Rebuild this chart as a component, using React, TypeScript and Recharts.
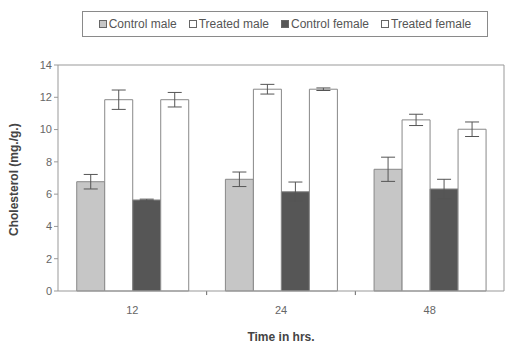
import * as React from 'react';
import { Bar, BarChart, ErrorBar, Legend, ReferenceLine, XAxis, YAxis } from 'recharts';

const times = ['12', '24', '48'];
const controlMale = [6.77, 6.92, 7.54];
const controlMaleErr = [0.45, 0.45, 0.75];
const treatedMale = [11.85, 12.5, 10.6];
const treatedMaleErr = [0.6, 0.3, 0.35];
const controlFemale = [5.64, 6.15, 6.32];
const controlFemaleErr = [0.05, 0.6, 0.6];
const treatedFemale = [11.85, 12.5, 10.02];
const treatedFemaleErr = [0.45, 0.08, 0.45];
const yTicks = [0, 2, 4, 6, 8, 10, 12, 14];
const boundaries = [1, 2];

const data = times.map((t, i) => ({
    time: t,
    idx: i,
    cm: controlMale[i], cmErr: controlMaleErr[i],
    tm: treatedMale[i], tmErr: treatedMaleErr[i],
    cf: controlFemale[i], cfErr: controlFemaleErr[i],
    tf: treatedFemale[i], tfErr: treatedFemaleErr[i],
}));

const series = [
    { key: 'cm', name: 'Control male', fill: '#c6c6c6' },
    { key: 'tm', name: 'Treated male', fill: '#ffffff' },
    { key: 'cf', name: 'Control female', fill: '#565656' },
    { key: 'tf', name: 'Treated female', fill: '#ffffff' },
];

const font = '"Liberation Sans", Arial, sans-serif';

const LegendBox = () => (
    <div style={{
        display: 'flex', alignItems: 'center', justifyContent: 'center', gap: 12,
        border: '1px solid #8a8a8a', height: 26, boxSizing: 'border-box',
        fontFamily: font, fontSize: 12, color: '#555',
    }}>
        {series.map(s => (
            <span key={s.key} style={{ display: 'flex', alignItems: 'center' }}>
                <span style={{
                    display: 'inline-block', width: 6, height: 6, marginRight: 2,
                    background: s.fill, border: '1px solid #666',
                }} />
                {s.name}
            </span>
        ))}
    </div>
);

export default function App() {
    return (
        <div style={{ position: 'absolute', left: 0, top: 0 }}>
            <BarChart width={505} height={345} data={data} barGap={0} barCategoryGap="12.6%"
                margin={{ top: 39, right: 1, bottom: 0, left: 0 }}>
                <XAxis dataKey="time" xAxisId="main" height={53} stroke="#999" tickLine={false}
                    tick={{ fill: '#666', fontSize: 11, fontFamily: font }} tickMargin={9}
                    label={{ value: 'Time in hrs.', position: 'insideBottom', offset: 3, fill: '#444', fontSize: 12, fontWeight: 'bold', fontFamily: font }} />
                <XAxis xAxisId="sep" type="number" dataKey="idx" domain={[0, 3]} ticks={boundaries}
                    height={1} axisLine={false} tickLine={false} tick={false} />
                <YAxis domain={[0, 14]} ticks={yTicks} width={58} stroke="#999" tickSize={4}
                    tick={{ fill: '#666', fontSize: 11, fontFamily: font }} interval={0}
                    label={{ value: 'Cholesterol (mg./g.)', angle: -90, position: 'insideLeft', offset: 14, dy: 58, fill: '#444', fontSize: 12, fontWeight: 'bold', fontFamily: font }} />
                <Legend verticalAlign="top" content={<LegendBox />}
                    wrapperStyle={{ top: 11, left: 82, width: 406, height: 26 }} />
                <ReferenceLine y={14} xAxisId="main" stroke="#999" />
                <ReferenceLine x={3} xAxisId="sep" stroke="#999" />
                {boundaries.map(b => (
                    <ReferenceLine key={b} xAxisId="sep" segment={[{ x: b, y: 0 }, { x: b, y: -0.25 }]}
                        ifOverflow="visible" stroke="#666" />
                ))}
                {series.map(s => (
                    <Bar key={s.key} dataKey={s.key} name={s.name} xAxisId="main" fill={s.fill}
                        stroke="#888" strokeWidth={1} isAnimationActive={false}>
                        <ErrorBar dataKey={s.key + 'Err'} width={7} stroke="#555" strokeWidth={1} />
                    </Bar>
                ))}
            </BarChart>
        </div>
    );
}
